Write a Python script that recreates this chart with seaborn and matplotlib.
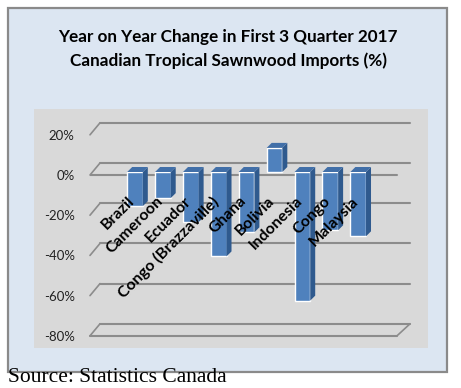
import matplotlib
matplotlib.use("Agg")
import matplotlib.pyplot as plt
import seaborn as sns
import pandas as pd
from matplotlib.patches import Rectangle, Polygon

# values (% change, first 3 quarters 2017)
countries = ['Brazil', 'Cameroon', 'Ecuador', 'Congo (Brazzaville)', 'Ghana',
             'Bolivia', 'Indonesia', 'Congo', 'Malaysia']
changes = [-17, -13, -25, -42, -30, 12, -64, -29, -32]
y_ticks = [20, 0, -20, -40, -60, -80]

W, H = 461, 388
FRONT = '#4f81bd'
SIDE = '#2f5a8e'
TOP = '#416fa8'
GRID = '#8c8c8c'


def px_box(x0, y0, x1, y1):
    # pixel box (top-left origin) -> figure fraction rect
    return [x0 / W, 1 - y1 / H, (x1 - x0) / W, (y1 - y0) / H]


sns.set_theme(style='white')
plt.rcParams['font.family'] = ['Lato', 'DejaVu Sans']

fig = plt.figure(figsize=(W / 100, H / 100), dpi=100)
fig.patch.set_facecolor('white')

# outer chart area and inner plot area
outer = px_box(8, 8, 447, 372)
fig.patches.append(Rectangle((outer[0], outer[1]), outer[2], outer[3],
                             transform=fig.transFigure, facecolor='#dce6f2',
                             edgecolor='#8a8a8a', linewidth=1.6, zorder=-2))
inner = px_box(34, 109, 428, 348)
fig.patches.append(Rectangle((inner[0], inner[1]), inner[2], inner[3],
                             transform=fig.transFigure, facecolor='#d9d9d9',
                             edgecolor='none', zorder=-1))

ax = fig.add_axes(px_box(90, 118, 410, 340))
ax.set_facecolor('none')
ax.set_zorder(2)

df = pd.DataFrame({'country': countries, 'change': changes})
sns.barplot(data=df, x='country', y='change', color=FRONT, width=0.56,
            saturation=1, ax=ax, zorder=3)

px_x = 27.9   # pixels per category
px_y = 2.01   # pixels per percent
x_left, x_right = (90 - 135) / px_x, (410 - 135) / px_x
ax.set_xlim(x_left, x_right)
ax.set_ylim((172 - 340) / px_y, (172 - 118) / px_y)

# pseudo 3D depth offsets
dx, dy = 10 / px_x, 12 / px_y
front_off = -1.5
back_l, back_r = x_left + dx, x_right
front_r = x_right - dx * 1.3

for v in y_ticks:
    yf, yb = v + front_off, v + front_off + dy
    ax.plot([back_l, back_r], [yb, yb], color=GRID, lw=1.5, zorder=1, clip_on=False)
    ax.plot([x_left, back_l], [yf, yb], color=GRID, lw=1.2, zorder=1, clip_on=False)
# front edge of 0 axis and of the floor
ax.plot([x_left, front_r], [front_off, front_off], color=GRID, lw=1.5, zorder=2)
floor = y_ticks[-1] + front_off
ax.plot([x_left, front_r], [floor, floor], color=GRID, lw=1.5, zorder=1, clip_on=False)
ax.plot([front_r, back_r], [floor, floor + dy], color=GRID, lw=1.2, zorder=1, clip_on=False)

# side and top faces of the bars
bdx, bdy = 5 / px_x, 5 / px_y
for bar in list(ax.patches):
    x0 = bar.get_x()
    x1 = x0 + bar.get_width()
    y0 = min(bar.get_y(), bar.get_y() + bar.get_height())
    y1 = max(bar.get_y(), bar.get_y() + bar.get_height())
    ax.add_patch(Polygon([(x1, y0), (x1 + bdx, y0 + bdy), (x1 + bdx, y1 + bdy), (x1, y1)],
                         closed=True, facecolor=SIDE, edgecolor='none', zorder=3))
    ax.add_patch(Polygon([(x0, y1), (x0 + bdx, y1 + bdy), (x1 + bdx, y1 + bdy), (x1, y1)],
                         closed=True, facecolor=TOP, edgecolor='none', zorder=3))

# category labels drawn diagonally inside the plot
for i, name in enumerate(countries):
    ax.text(i - 0.08, -13.5, name, rotation=45, rotation_mode='anchor',
            ha='right', va='center', fontsize=11.5, fontweight='bold',
            color='black', zorder=5)

ax.set_yticks([v + front_off for v in y_ticks])
ax.set_yticklabels([f'{v}%' for v in y_ticks], fontsize=9.5, color='#222222')
ax.tick_params(axis='y', length=0, pad=11)
ax.set_xticks([])
ax.set_xlabel('')
ax.set_ylabel('')
for s in ax.spines.values():
    s.set_visible(False)

fig.text(228 / W, 1 - 49 / H,
         'Year on Year Change in First 3 Quarter 2017\nCanadian Tropical Sawnwood Imports (%)',
         ha='center', va='center', fontsize=12.3, fontweight='bold',
         linespacing=1.55, color='black')

fig.text(8 / W, 1 - 377 / H, 'Source: Statistics Canada', ha='left', va='center',
         fontsize=15.5, family=['Liberation Serif', 'DejaVu Serif'], color='black')

fig.savefig('out.png', dpi=100)
